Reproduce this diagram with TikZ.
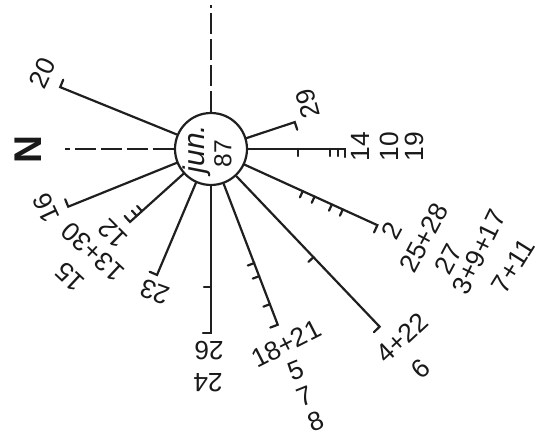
\documentclass[tikz,border=0pt]{standalone}
\usepackage{fontspec}
\setmainfont{Liberation Sans}
\usetikzlibrary{positioning,calc}

\begin{document}
\begin{tikzpicture}[
  x=0.02cm,y=0.02cm,
  line width=1.25pt,
  ray/.style={draw=black!88,line cap=round},
  dray/.style={draw=black!88,dash pattern=on 0.42cm off 0.1cm},
  hub/.style={draw=black!88,circle,minimum size=1.44cm,inner sep=0pt},
  lbl/.style={font=\fontsize{15}{16}\selectfont,inner sep=0pt,text=black!90}
]
\useasboundingbox (-211,-289) rectangle (330,149);

% centre
\node[hub] (hub) at (0,0) {};
\node[lbl,font=\fontsize{17}{18}\selectfont\itshape,rotate=90] (jun) at (-14,0) {jun.};
\node[lbl,font=\fontsize{14}{15}\selectfont,rotate=90] (yr) at (12,-5) {87};

% dashed axes
\coordinate (top) at (0,144);
\coordinate (west) at (-146,0);
\draw[dray] (hub.north) -- (top);
\draw[dray] (hub.west) -- (west);
\node[lbl,font=\fontsize{22}{23}\selectfont\bfseries,rotate=90] (north) at (-183,-1) {N};

% rays with end hooks
\foreach \a/\r/\n in {157.7/163/a, 17.8/88/b, 0/134/c, 335.4/183/d, 313.5/245/e,
                      290.8/188/f, 270/184/g, 246.8/137/h, 222/109/i, 202/154/j}{
  \pgfmathsetmacro\h{\a-90}
  \coordinate (end\n) at (\a:\r);
  \draw[ray] (hub.\a) -- (end\n) -- ++(\h:8);
}

% ticks
\foreach \a/\r in {0/87, 0/119, 0/127, 335.4/101, 335.4/114, 335.4/133, 335.4/145,
                   313.5/149, 290.8/122, 290.8/136, 290.8/166, 270/138, 222/93, 222/100}{
  \pgfmathsetmacro\h{\a-90}
  \draw[ray] (\a:\r) -- ++(\h:7);
}

% day labels
\node[lbl,rotate=65] (l20) at (-169,76) {20};
\node[lbl,rotate=105] (l29) at (97,45) {29};
\node[lbl,rotate=90] (l14) at (149,2) {14};
\node[lbl,rotate=90] (l10) at (178,2) {10};
\node[lbl,rotate=90] (l19) at (203,2) {19};
\node[lbl,rotate=62] (l2) at (181,-82) {2};
\node[lbl,rotate=62] (l25) at (213,-89) {25+28};
\node[lbl,rotate=62] (l27) at (237,-110) {27};
\node[lbl,rotate=64] (l3) at (268,-103) {3+9+17};
\node[lbl,rotate=58] (l7a) at (302,-117) {7+11};
\node[lbl,rotate=43] (l4) at (191,-189) {4+22};
\node[lbl,rotate=43] (l6) at (210,-220) {6};
\node[lbl,rotate=27] (l18) at (75,-195) {18+21};
\node[lbl,rotate=22] (l5) at (85,-221) {5};
\node[lbl,rotate=22] (l7) at (94,-247) {7};
\node[lbl,rotate=22] (l8) at (105,-272) {8};
\node[lbl,rotate=180] (l26) at (-2,-202) {26};
\node[lbl,rotate=180] (l24) at (-3,-234) {24};
\node[lbl,rotate=160] (l23) at (-56,-143) {23};
\node[lbl,rotate=135] (l12) at (-98,-85) {12};
\node[lbl,rotate=137] (l13) at (-118,-103) {13+30};
\node[lbl,rotate=137] (l15) at (-141,-128) {15};
\node[lbl,rotate=115] (l16) at (-165,-59) {16};
\end{tikzpicture}
\end{document}
